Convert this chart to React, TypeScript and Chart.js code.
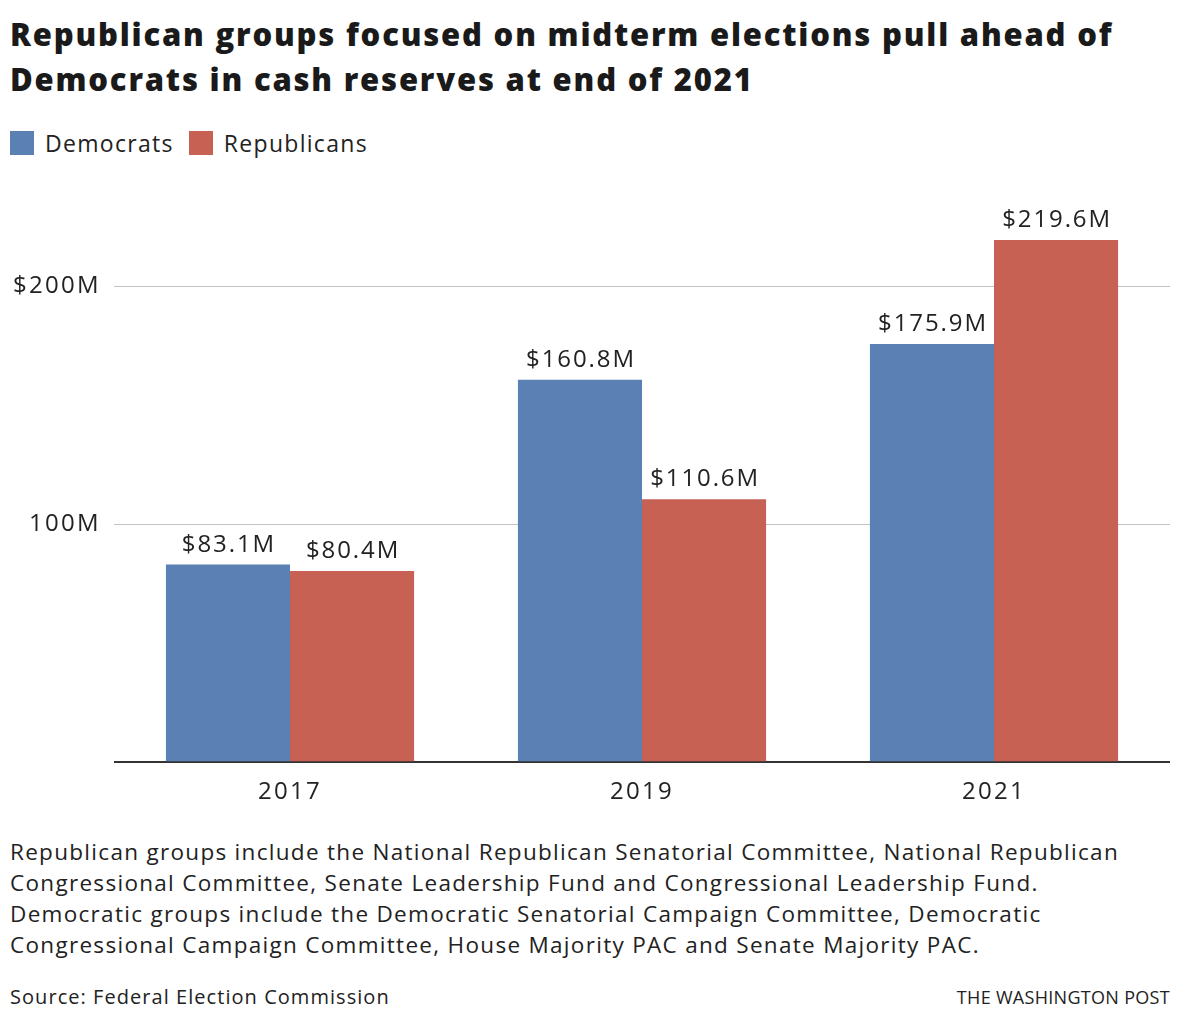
import React, { useEffect, useRef } from "react";
import { Chart, registerables } from "chart.js";

Chart.register(...registerables);

const categories = ["2017", "2019", "2021"];
const democrats = [83.1, 160.8, 175.9];
const republicans = [80.4, 110.6, 219.6];
const yTicks = [100, 200];
const seriesNames = ["Democrats", "Republicans"];
const colors = ["#5b80b4", "#c66154"];

const FONT = "'Open Sans', Roboto, sans-serif";

const spacingPlugin = {
  id: "spacing",
  beforeDraw(chart: any) {
    (chart.ctx as any).letterSpacing = "2.3px";
  },
};

const labelPlugin = {
  id: "barLabels",
  afterDatasetsDraw(chart: any) {
    const ctx = chart.ctx;
    ctx.save();
    ctx.letterSpacing = "1.9px";
    ctx.font = `24px ${FONT}`;
    ctx.fillStyle = "#222";
    ctx.textAlign = "center";
    ctx.textBaseline = "alphabetic";
    chart.data.datasets.forEach((ds: any, i: number) => {
      const meta = chart.getDatasetMeta(i);
      meta.data.forEach((bar: any, j: number) => {
        const v = ds.data[j];
        ctx.fillText(`$${v.toFixed(1)}M`, bar.x + 1, bar.y - 13);
      });
    });
    ctx.restore();
  },
};

export default function App() {
  const ref = useRef<HTMLCanvasElement>(null);
  useEffect(() => {
    const chart = new Chart(ref.current!, {
      type: "bar",
      data: {
        labels: categories,
        datasets: [
          { label: seriesNames[0], data: democrats, backgroundColor: colors[0], categoryPercentage: 0.705, barPercentage: 1 },
          { label: seriesNames[1], data: republicans, backgroundColor: colors[1], categoryPercentage: 0.705, barPercentage: 1 },
        ],
      },
      options: {
        animation: false,
        responsive: false,
        maintainAspectRatio: false,
        layout: { padding: { top: 5, right: 10, bottom: 7, left: 0 } },
        plugins: { legend: { display: false }, tooltip: { enabled: false } },
        scales: {
          x: {
            grid: { display: false, drawTicks: false },
            border: { display: false },
            ticks: { font: { family: FONT, size: 24 }, color: "#222", padding: 16 },
          },
          y: {
            min: 0,
            max: 237.5,
            afterFit: (s: any) => { s.width = 114; },
            afterBuildTicks: (s: any) => { s.ticks = [0, ...yTicks].map((v) => ({ value: v })); },
            border: { display: false },
            grid: {
              drawTicks: false,
              color: (c: any) => (c.tick && c.tick.value === 0 ? "#333" : "#c4c4c4"),
              lineWidth: (c: any) => (c.tick && c.tick.value === 0 ? 2 : 1),
            },
            ticks: {
              padding: 13,
              font: { family: FONT, size: 24 },
              color: "#222",
              callback: (v: any) => (v === 0 ? "" : v === 200 ? `$${v}M` : `${v}M`),
            },
          },
        },
      },
      plugins: [spacingPlugin, labelPlugin],
    });
    return () => chart.destroy();
  }, []);

  const text: React.CSSProperties = { fontFamily: FONT, color: "#222" };
  return (
    <div style={{ position: "absolute", left: 0, top: 0, width: 1180, height: 1020, background: "#fff", ...text }}>
      <div style={{ position: "absolute", left: 10, top: 12, fontSize: 31, fontWeight: 800, lineHeight: "45px", letterSpacing: "1.8px", color: "#1a1a1a", whiteSpace: "nowrap" }}>
        Republican groups focused on midterm elections pull ahead of
        <br />
        Democrats in cash reserves at end of 2021
      </div>
      <div style={{ position: "absolute", left: 10, top: 127, display: "flex", alignItems: "center", fontSize: 23, letterSpacing: "1.3px" }}>
        <span style={{ width: 24, height: 24, background: colors[0], display: "inline-block", marginRight: 11 }} />
        <span style={{ marginRight: 15 }}>{seriesNames[0]}</span>
        <span style={{ width: 24, height: 24, background: colors[1], display: "inline-block", marginRight: 11 }} />
        <span>{seriesNames[1]}</span>
      </div>
      <canvas ref={ref} width={1180} height={660} style={{ position: "absolute", left: 0, top: 170, width: 1180, height: 660 }} />
      <div style={{ position: "absolute", left: 10, top: 836, width: 1170, fontSize: 22.5, lineHeight: "31px", letterSpacing: "1.3px", whiteSpace: "nowrap" }}>
        Republican groups include the National Republican Senatorial Committee, National Republican
        <br />
        Congressional Committee, Senate Leadership Fund and Congressional Leadership Fund.
        <br />
        Democratic groups include the Democratic Senatorial Campaign Committee, Democratic
        <br />
        Congressional Campaign Committee, House Majority PAC and Senate Majority PAC.
      </div>
      <div style={{ position: "absolute", left: 10, top: 983, fontSize: 20, letterSpacing: "1.05px" }}>Source: Federal Election Commission</div>
      <div style={{ position: "absolute", right: 10, top: 985, fontSize: 18, letterSpacing: "0.3px" }}>THE WASHINGTON POST</div>
    </div>
  );
}
